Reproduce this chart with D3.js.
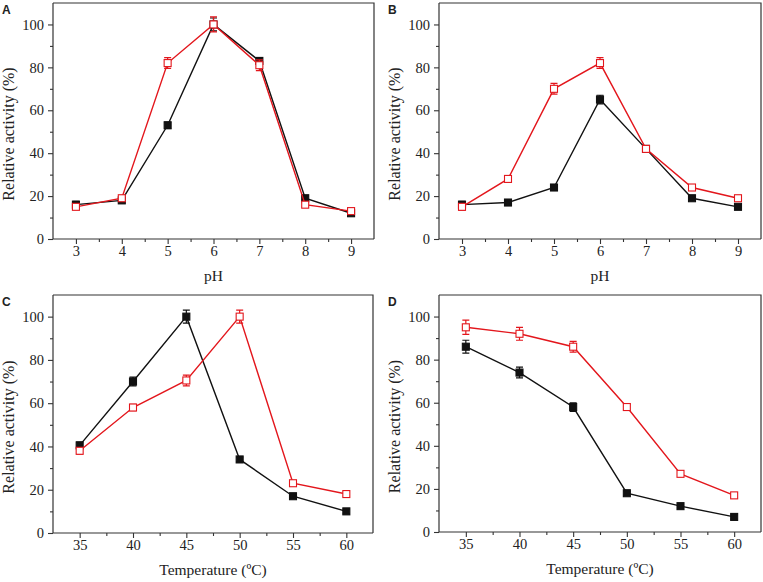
<!DOCTYPE html>
<html>
<head>
<meta charset="utf-8" />
<script src="https://d3js.org/d3.v7.min.js"></script>
<style>
  body { margin: 0; background: #fff; }
  svg text { font-family: "Liberation Serif", "Times New Roman", serif; fill: #222; }
</style>
</head>
<body>
<script>
  // pH panels
  var phValues = [3, 4, 5, 6, 7, 8, 9];
  var aBlack = [16, 18, 53, 100, 83, 19, 12];
  var aBlackErr = [1.5, 1, 1.5, 3, 1.5, 1, 1];
  var aRed = [15, 19, 82, 100, 81, 16, 13];
  var aRedErr = [1, 1, 2.5, 3.5, 2.5, 1, 1];
  var bBlack = [16, 17, 24, 65, 42, 19, 15];
  var bBlackErr = [1.5, 1, 1, 2, 1, 1, 1];
  var bRed = [15, 28, 70, 82, 42, 24, 19];
  var bRedErr = [1.5, 1, 2.5, 2.5, 1.5, 1, 1];

  // temperature panels
  var temps = [35, 40, 45, 50, 55, 60];
  var cBlack = [40.5, 70, 100, 34, 17, 10];
  var cBlackErr = [1.5, 2, 3, 1, 1, 1];
  var cRed = [38, 58, 70.5, 100, 23, 18];
  var cRedErr = [1.5, 1.5, 2.5, 3, 1, 1];
  var dBlack = [86, 74, 58, 18, 12, 7];
  var dBlackErr = [3, 2.5, 2, 1, 1, 1];
  var dRed = [95, 92, 86, 58, 27, 17];
  var dRedErr = [3.3, 3, 2.5, 1.5, 1, 1];

  var yTicks = [0, 20, 40, 60, 80, 100];
  var red = "#e3161c";
  var serif = "'Liberation Serif', 'Times New Roman', serif";

  var svg = d3.select("body").append("svg")
    .attr("width", 763).attr("height", 582);

  var panels = [
    { label: "A", box: [53, 3, 374, 239], xs: phValues, xdom: [2.5, 9.5], xticks: phValues, xminor: 0.5,
      xlab: "pH", black: aBlack, blackErr: aBlackErr, red: aRed, redErr: aRedErr },
    { label: "B", box: [439, 3, 761, 239], xs: phValues, xdom: [2.5, 9.5], xticks: phValues, xminor: 0.5,
      xlab: "pH", black: bBlack, blackErr: bBlackErr, red: bRed, redErr: bRedErr },
    { label: "C", box: [53, 295, 373, 533], xs: temps, xdom: [32.5, 62.5], xticks: temps, xminor: 2.5,
      xlab: "Temperature (\u00baC)", black: cBlack, blackErr: cBlackErr, red: cRed, redErr: cRedErr },
    { label: "D", box: [439, 295, 761, 532], xs: temps, xdom: [32.5, 62.5], xticks: temps, xminor: 2.5,
      xlab: "Temperature (\u00baC)", black: dBlack, blackErr: dBlackErr, red: dRed, redErr: dRedErr }
  ];

  panels.forEach(function (p) {
    var l = p.box[0], t = p.box[1], r = p.box[2], b = p.box[3];
    var x = d3.scaleLinear().domain(p.xdom).range([l, r]);
    var y = d3.scaleLinear().domain([0, 110]).range([b, t]);
    var g = svg.append("g");

    // panel letter
    g.append("text")
      .attr("x", l - 51).attr("y", t + 11)
      .style("font-family", "'Liberation Sans', Arial, sans-serif")
      .style("font-weight", "bold").style("font-size", "12px")
      .text(p.label);

    // frame top and right
    g.append("path")
      .attr("d", "M" + l + "," + t + "H" + r + "V" + b)
      .attr("fill", "none").attr("stroke", "#333").attr("stroke-width", 1.2);

    // x axis
    var xMinorTicks = d3.range(p.xdom[0] + p.xminor, p.xdom[1], p.xminor)
      .filter(function (v) { return p.xticks.indexOf(v) < 0; });
    g.append("g").attr("transform", "translate(0," + b + ")")
      .call(d3.axisBottom(x).tickValues(xMinorTicks).tickSize(3).tickFormat(""))
      .call(function (s) { s.select(".domain").remove(); });
    var xa = g.append("g").attr("transform", "translate(0," + b + ")")
      .call(d3.axisBottom(x).tickValues(p.xticks).tickSize(5).tickSizeOuter(0).tickPadding(2).tickFormat(d3.format("d")));
    xa.select(".domain").attr("d", "M" + l + ",0H" + r);

    // y axis
    g.append("g").attr("transform", "translate(" + l + ",0)")
      .call(d3.axisLeft(y).tickValues([10, 30, 50, 70, 90]).tickSize(3).tickFormat(""))
      .call(function (s) { s.select(".domain").remove(); });
    var ya = g.append("g").attr("transform", "translate(" + l + ",0)")
      .call(d3.axisLeft(y).tickValues(yTicks).tickSize(5).tickSizeOuter(0).tickPadding(4));
    ya.select(".domain").attr("d", "M0," + b + "V" + t);

    [xa, ya].forEach(function (a) {
      a.attr("font-family", serif).attr("font-size", 14.5);
    });
    g.selectAll(".tick line").attr("stroke", "#333").attr("stroke-width", 1.1);
    g.selectAll(".domain").attr("stroke", "#333").attr("stroke-width", 1.2);
    g.selectAll(".tick text").style("font-family", serif)
      .style("font-size", "14.5px").attr("fill", "#222");

    // axis titles
    g.append("text")
      .attr("x", (l + r) / 2).attr("y", b + 42)
      .attr("text-anchor", "middle")
      .style("font-family", serif).style("font-size", "15.5px")
      .text(p.xlab);
    g.append("text")
      .attr("transform", "translate(" + (l - 39) + "," + ((t + b) / 2 + 13) + ") rotate(-90)")
      .attr("text-anchor", "middle")
      .style("font-family", serif).style("font-size", "16px")
      .text("Relative activity (%)");

    function drawSeries(vals, errs, color, filled) {
      var pts = p.xs.map(function (v, i) { return { x: v, y: vals[i], e: errs[i] }; });
      var sg = g.append("g");
      sg.append("path").datum(pts)
        .attr("fill", "none").attr("stroke", color).attr("stroke-width", 1.4)
        .attr("d", d3.line().x(function (d) { return x(d.x); }).y(function (d) { return y(d.y); }));
      var eb = sg.selectAll(".eb").data(pts).enter().append("g");
      eb.append("path")
        .attr("fill", "none").attr("stroke", color).attr("stroke-width", 1.2)
        .attr("d", function (d) {
          var cx = x(d.x), y1 = y(d.y + d.e), y2 = y(d.y - d.e);
          return "M" + cx + "," + y1 + "V" + y2 +
            "M" + (cx - 3.5) + "," + y1 + "H" + (cx + 3.5) +
            "M" + (cx - 3.5) + "," + y2 + "H" + (cx + 3.5);
        });
      sg.selectAll(".mk").data(pts).enter().append("rect")
        .attr("x", function (d) { return x(d.x) - 3.5; })
        .attr("y", function (d) { return y(d.y) - 3.5; })
        .attr("width", 7).attr("height", 7)
        .attr("fill", filled ? color : "#fff")
        .attr("stroke", color).attr("stroke-width", 1.1);
    }

    drawSeries(p.black, p.blackErr, "#111", true);
    drawSeries(p.red, p.redErr, red, false);
  });
</script>
</body>
</html>
